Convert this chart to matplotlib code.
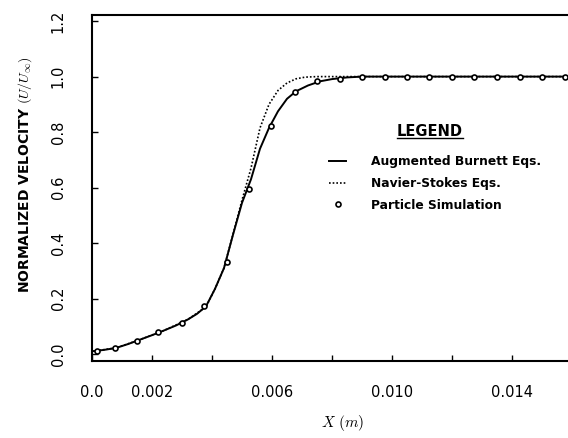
import matplotlib
matplotlib.use("Agg")
import matplotlib.pyplot as plt
from matplotlib.lines import Line2D

plt.rcParams["font.family"] = ["DejaVu Sans"]
plt.rcParams["mathtext.fontset"] = "cm"

# Augmented Burnett solution (solid)
burnett_x = [0.0, 0.0004, 0.0008, 0.0012, 0.0016, 0.0020, 0.0024, 0.0028, 0.0032,
             0.0035, 0.0038, 0.0041, 0.0044, 0.0047, 0.0050, 0.0053, 0.0056,
             0.0059, 0.0062, 0.0065, 0.0068, 0.0072, 0.0076, 0.0080, 0.0085,
             0.0090, 0.0165]
burnett_y = [0.010, 0.015, 0.022, 0.036, 0.052, 0.068, 0.085, 0.103, 0.125,
             0.145, 0.172, 0.235, 0.310, 0.430, 0.545, 0.630, 0.740,
             0.815, 0.875, 0.920, 0.947, 0.968, 0.983, 0.991, 0.997,
             1.000, 1.000]

# Navier-Stokes solution (dotted)
ns_x = [0.0, 0.0008, 0.0016, 0.0024, 0.0032, 0.0038, 0.0041, 0.0044, 0.0047,
        0.0050, 0.0053, 0.0056, 0.0059, 0.0062, 0.0065, 0.0068, 0.0071,
        0.0075, 0.0165]
ns_y = [0.010, 0.022, 0.052, 0.085, 0.125, 0.170, 0.235, 0.310, 0.432,
        0.555, 0.670, 0.815, 0.900, 0.950, 0.977, 0.992, 0.998,
        1.000, 1.000]

# DSMC particle simulation
dsmc_x = [0.00016, 0.00078, 0.0015, 0.0022, 0.0030, 0.00373, 0.0045, 0.00524,
          0.00597, 0.00677, 0.00749, 0.00827, 0.00901, 0.00977, 0.01049,
          0.01124, 0.01199, 0.01274, 0.01349, 0.01427, 0.01499, 0.01577]
dsmc_y = [0.010, 0.022, 0.048, 0.080, 0.112, 0.173, 0.332, 0.595,
          0.822, 0.943, 0.985, 0.993, 1.0, 1.0, 1.0,
          1.0, 1.0, 1.0, 1.0, 1.0, 1.0, 1.0]

x_ticks = [0.0, 0.002, 0.004, 0.006, 0.008, 0.010, 0.012, 0.014, 0.016]
x_ticklabels = ["0.0", "0.002", "", "0.006", "", "0.010", "", "0.014", ""]
y_ticks = [0.0, 0.2, 0.4, 0.6, 0.8, 1.0, 1.2]

fig = plt.figure(figsize=(5.68, 4.38), dpi=100)
ax = fig.add_axes([92 / 568, 1 - 361 / 438, 480 / 568, 346 / 438])

ax.plot(burnett_x, burnett_y, color="black", lw=1.4, label="Augmented Burnett Eqs.")
ax.plot(ns_x, ns_y, color="black", lw=1.2, ls=(0, (1, 1.2)), label="Navier-Stokes Eqs.")
ax.plot(dsmc_x, dsmc_y, ls="none", marker="o", ms=3.6, mfc="white", mec="black",
        mew=1.2, label="Particle Simulation")

ax.set_xlim(0.0, 0.016)
ax.set_ylim(-0.025, 1.222)
ax.set_xticks(x_ticks)
ax.set_xticklabels(x_ticklabels)
ax.set_yticks(y_ticks)
ax.set_yticklabels([f"{v:.1f}" for v in y_ticks], rotation=90, va="center")
ax.tick_params(direction="in", length=4, width=1.0, labelsize=10.5, pad=19)
ax.tick_params(axis="x", pad=17)
for s in ax.spines.values():
    s.set_linewidth(1.5)

fig.text(25 / 568, 1 - 175 / 438, r"NORMALIZED VELOCITY $(U/U_\infty)$",
         rotation=90, ha="center", va="center", fontsize=10, fontweight="bold")
fig.text(342 / 568, 1 - 423 / 438, r"$X\ (m)$", ha="center", va="center", fontsize=11)

leg = ax.legend(loc="upper left", bbox_to_anchor=(0.471, 0.627), frameon=False,
                fontsize=8.8, handlelength=1.4, handletextpad=2.0,
                labelspacing=0.72)
for t in leg.get_texts():
    t.set_fontweight("bold")

# legend heading, underlined
head = fig.text(430 / 568, 1 - 131 / 438, "LEGEND", ha="center", va="center",
                fontsize=10.5, fontweight="bold")
fig.canvas.draw()
bb = head.get_window_extent().transformed(fig.transFigure.inverted())
fig.add_artist(Line2D([bb.x0, bb.x1], [bb.y0 + 0.001, bb.y0 + 0.001],
                      transform=fig.transFigure, color="black", lw=1.0))

fig.savefig("out.png", dpi=100, facecolor="white")
